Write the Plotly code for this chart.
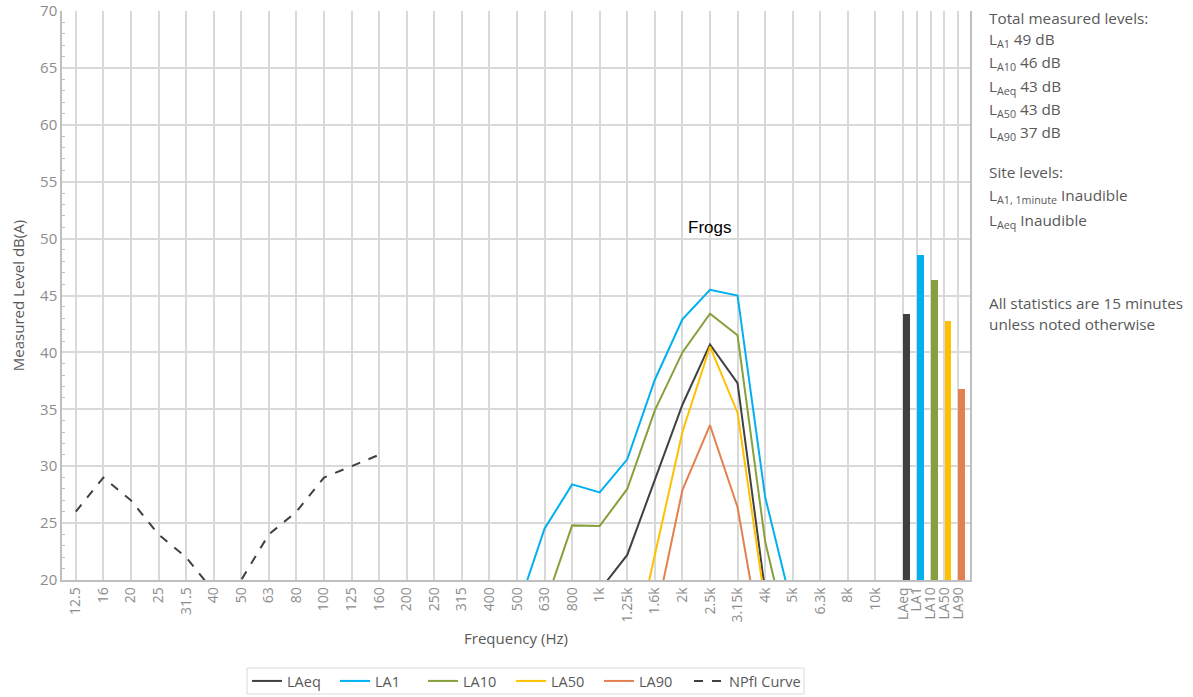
import plotly.graph_objects as go

# ---------------- data ----------------
band_labels = ["12.5", "16", "20", "25", "31.5", "40", "50", "63", "80", "100",
               "125", "160", "200", "250", "315", "400", "500", "630", "800", "1k",
               "1.25k", "1.6k", "2k", "2.5k", "3.15k", "4k", "5k", "6.3k", "8k", "10k"]

N = None
laeq = [N] * 19 + [19.1, 22.2, 28.8, 35.4, 40.7, 37.3, 19.0] + [N] * 4
la1 = [N] * 16 + [17.3, 24.5, 28.4, 27.7, 30.6, 37.6, 42.9, 45.5, 45.0, 27.3, 17.4] + [N] * 3
la10 = [N] * 17 + [17.7, 24.8, 24.75, 28.0, 34.9, 40.0, 43.4, 41.5, 23.4, 13.1] + [N] * 3
la50 = [N] * 20 + [11.4, 22.3, 33.0, 40.5, 34.7, 18.0] + [N] * 4
la90 = [N] * 21 + [16.4, 27.9, 33.6, 26.4, 12.5] + [N] * 4
npfi = [26, 29, 27, 24, 22, 19, 20, 24, 26, 29, 30, 31] + [N] * 18

bar_labels = ["LAeq", "LA1", "LA10", "LA50", "LA90"]
bar_values = [43.4, 48.6, 46.4, 42.8, 36.8]

series_names = ["LAeq", "LA1", "LA10", "LA50", "LA90"]
series_colors = ["#404040", "#00B0F0", "#86A13B", "#FFC000", "#E2814F"]

side_text = [
    "Total measured levels:",
    "L<sub>A1</sub> 49 dB",
    "L<sub>A10</sub> 46 dB",
    "L<sub>Aeq</sub> 43 dB",
    "L<sub>A50</sub> 43 dB",
    "L<sub>A90</sub> 37 dB",
    "Site levels:",
    "L<sub>A1, 1minute</sub> Inaudible",
    "L<sub>Aeq</sub> Inaudible",
    "All statistics are 15 minutes",
    "unless noted otherwise",
]
side_text_px = [18, 40, 63, 87, 110, 133, 172, 196, 221, 303, 324]

# ---------------- layout helpers ----------------
W, H = 1193, 697
L, R, T, B = 62, 970, 11, 580
FONT = "Open Sans"
GRAY_TXT = "#595959"
TICK_TXT = "#8C8C8C"


def px_x(v):
    return (v - L) / (R - L)


def px_y(v):
    return (B - v) / (B - T)


band_x = list(range(len(band_labels)))
bar_grid = [len(band_labels) + 0.5 * j for j in range(len(bar_labels))]
bar_x = [g + 0.13 for g in bar_grid]

fig = go.Figure()

for name, col, vals in zip(series_names, series_colors, [laeq, la1, la10, la50, la90]):
    fig.add_trace(go.Scatter(x=band_x, y=vals, mode="lines", name=name,
                             line=dict(color=col, width=2), connectgaps=False,
                             legend="legend"))

fig.add_trace(go.Scatter(x=band_x, y=npfi, mode="lines", name="NPfI Curve",
                         line=dict(color="#404040", width=2, dash="dash"),
                         connectgaps=False, legend="legend2"))

fig.add_trace(go.Bar(x=bar_x, y=bar_values, width=0.245,
                     marker=dict(color=series_colors, line=dict(width=0)),
                     showlegend=False))

annotations = [
    dict(x=23, y=51.0, xref="x", yref="y", text="Frogs", showarrow=False,
         font=dict(family="Liberation Sans, Arial", size=17, color="#000000"),
         xanchor="center", yanchor="middle"),
]
for txt, ypx in zip(side_text, side_text_px):
    annotations.append(dict(
        x=px_x(987), y=px_y(ypx), xref="paper", yref="paper",
        text=txt, showarrow=False, xanchor="left", yanchor="middle",
        font=dict(family=FONT, size=15.3, color=GRAY_TXT)))

legend_font = dict(family=FONT, size=14.5, color=GRAY_TXT)

fig.update_layout(
    width=W, height=H,
    margin=dict(l=L, r=W - R, t=T, b=H - B, pad=0, autoexpand=False),
    paper_bgcolor="white", plot_bgcolor="white",
    font=dict(family=FONT, color=GRAY_TXT),
    bargap=0,
    showlegend=True,
    legend=dict(orientation="h", x=px_x(247), xanchor="left",
                y=px_y(681), yanchor="middle",
                borderwidth=0, bgcolor="rgba(0,0,0,0)",
                font=legend_font,
                entrywidth=43, entrywidthmode="pixels",
                itemwidth=30),
    legend2=dict(orientation="h", x=px_x(689), xanchor="left",
                 y=px_y(681), yanchor="middle",
                 borderwidth=0, bgcolor="rgba(0,0,0,0)",
                 font=legend_font, itemwidth=30),
    shapes=[dict(type="rect", xref="paper", yref="paper",
                 x0=px_x(247), x1=px_x(804), y0=px_y(694), y1=px_y(668),
                 line=dict(color="#D9D9D9", width=1), fillcolor="rgba(0,0,0,0)")],
    annotations=annotations,
)

fig.update_xaxes(
    range=[-0.5, 32.43],
    automargin=False,
    tickmode="array",
    tickvals=band_x + bar_grid,
    ticktext=band_labels + bar_labels,
    tickangle=-90,
    tickfont=dict(family=FONT, size=14, color=TICK_TXT),
    ticks="", showgrid=True, gridcolor="#D9D9D9", gridwidth=1.5,
    showline=True, linecolor="#BFBFBF", linewidth=1.5,
    zeroline=False,
    title=dict(text="Frequency (Hz)", font=dict(family=FONT, size=15, color=GRAY_TXT),
               standoff=12),
)
fig.update_yaxes(
    range=[20, 70], dtick=5, tick0=20,
    automargin=False,
    tickfont=dict(family=FONT, size=15, color=TICK_TXT),
    ticks="", showgrid=True, gridcolor="#D9D9D9", gridwidth=1.5,
    showline=True, linecolor="#BFBFBF", linewidth=1.5, mirror=True,
    zeroline=False,
    minor=dict(dtick=1, ticks="inside", ticklen=3, tickcolor="#BFBFBF", showgrid=False),
    title=dict(text="Measured Level dB(A)", font=dict(family=FONT, size=15, color=GRAY_TXT),
               standoff=12),
)

fig.write_html("out.html",
               config={"displayModeBar": False},
               post_script="document.body.style.margin='0';document.body.style.overflow='hidden';")
